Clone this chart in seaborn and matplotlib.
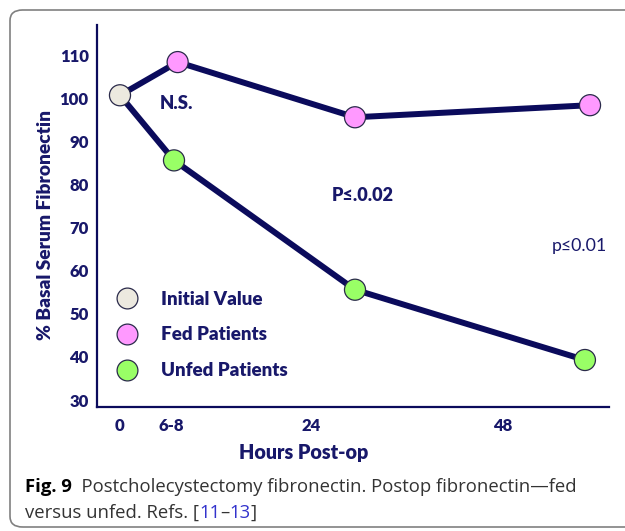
import matplotlib
matplotlib.use("Agg")
import matplotlib.pyplot as plt
import seaborn as sns
import pandas as pd
from matplotlib.lines import Line2D
from matplotlib.patches import FancyBboxPatch

# ---- data ----
fed_x = [0, 7.9, 32.2, 64.4]
fed_y = [100.7, 108.4, 95.6, 98.4]
unfed_x = [0, 7.4, 32.2, 63.7]
unfed_y = [100.7, 85.6, 55.6, 39.3]
init_x = [0]
init_y = [100.7]
xtick_pos = [0, 7.0, 26.2, 52.5]
xtick_labels = ["0", "6-8", "24", "48"]
ytick_vals = [30, 40, 50, 60, 70, 80, 90, 100, 110]

NAVY = "#0b0b5c"
TXT = "#18186a"
C_INIT = "#ece9df"
C_FED = "#ff99ff"
C_UNFED = "#99ff66"
EDGE = "#2a2a4a"
BW = "heavy"

sns.set_style("white")
plt.rcParams["font.family"] = ["Lato", "DejaVu Sans"]

lines_df = pd.DataFrame({
    "x": fed_x + unfed_x,
    "y": fed_y + unfed_y,
    "series": ["Fed"] * len(fed_x) + ["Unfed"] * len(unfed_x),
})
pts_df = pd.DataFrame({
    "x": init_x + fed_x[1:] + unfed_x[1:],
    "y": init_y + fed_y[1:] + unfed_y[1:],
    "group": ["Initial Value"] * len(init_x) + ["Fed Patients"] * (len(fed_x) - 1)
             + ["Unfed Patients"] * (len(unfed_x) - 1),
})

fig = plt.figure(figsize=(6.25, 5.31), dpi=100)
ax = fig.add_axes([97 / 625, 1 - 407 / 531, (609 - 97) / 625, (407 - 25) / 531])

sns.lineplot(data=lines_df, x="x", y="y", hue="series", units="series", estimator=None,
             sort=False, palette={"Fed": NAVY, "Unfed": NAVY}, linewidth=4.3,
             legend=False, ax=ax, zorder=2)
palette = {"Initial Value": C_INIT, "Fed Patients": C_FED, "Unfed Patients": C_UNFED}
sns.scatterplot(data=pts_df, x="x", y="y", hue="group", palette=palette, s=230,
                edgecolor=EDGE, linewidth=0.9, legend=False, ax=ax, zorder=3)

ax.set_xlim(-3.15, 67.0)
ax.set_ylim(28.4, 117.0)
ax.set_xticks(xtick_pos)
ax.set_xticklabels(xtick_labels)
ax.set_yticks(ytick_vals)
ax.tick_params(axis="both", length=0, colors=TXT, labelsize=12)
ax.tick_params(axis="x", pad=8)
ax.tick_params(axis="y", pad=6)
for lab in ax.get_xticklabels() + ax.get_yticklabels():
    lab.set_fontweight(BW)

for s in ["top", "right"]:
    ax.spines[s].set_visible(False)
for s in ["left", "bottom"]:
    ax.spines[s].set_color(NAVY)
    ax.spines[s].set_linewidth(1.6)

ax.set_xlabel("Hours Post-op", fontsize=14.2, fontweight=BW, color=TXT, va="center")
ax.xaxis.set_label_coords((304 - 97) / 512, (407 - 452) / 382)
ax.set_ylabel("% Basal Serum Fibronectin", fontsize=13.8, fontweight=BW, color=TXT, va="center")
ax.yaxis.set_label_coords((46 - 97) / 512, (407 - 225) / 382)

ax.text(7.7, 98.7, "N.S.", fontsize=13.3, fontweight=BW, color=TXT, ha="center", va="center")
ax.text(33.3, 77.5, "P≤.0.02", fontsize=13, fontweight=BW, color=TXT, ha="center", va="center")
ax.text(63.0, 65.7, "p≤0.01", fontsize=12.8, color=TXT, ha="center", va="center")

handles = [Line2D([], [], marker="o", linestyle="none", markersize=15,
                  markerfacecolor=palette[k], markeredgecolor=EDGE, markeredgewidth=0.9)
           for k in ["Initial Value", "Fed Patients", "Unfed Patients"]]
leg = fig.legend(handles, ["Initial Value", "Fed Patients", "Unfed Patients"],
                 loc="center left", bbox_to_anchor=(118 / 625, 1 - 335 / 531),
                 frameon=False, fontsize=13.5, handlelength=1.0, handletextpad=1.3,
                 labelspacing=1.0, borderpad=0, borderaxespad=0)
for t in leg.get_texts():
    t.set_fontweight(BW)
    t.set_color(TXT)

# border box
box = FancyBboxPatch((10 / 625, 4 / 531), 640 / 625, 517 / 531,
                     boxstyle="round,pad=0,rounding_size=0.02",
                     transform=fig.transFigure, facecolor="none",
                     edgecolor="#808080", linewidth=1.2, clip_on=False)
fig.patches.append(box)

# caption
cap_font = ["Open Sans", "DejaVu Sans"]
fig.canvas.draw()
renderer = fig.canvas.get_renderer()


def put_pieces(pieces, x0, y0):
    x = x0
    for txt, kw in pieces:
        t = fig.text(x / 625, 1 - y0 / 531, txt, fontsize=13.3, family=cap_font,
                     va="baseline", ha="left", **kw)
        bb = t.get_window_extent(renderer=renderer)
        x = x + bb.width


put_pieces([("Fig. 9", dict(fontweight="bold", color="black")),
            ("  Postcholecystectomy fibronectin. Postop fibronectin—fed", dict(color="#333333"))],
           25, 492)
put_pieces([("versus unfed. Refs. [", dict(color="#333333")),
            ("11", dict(color="#3333cc")),
            ("–", dict(color="#333333")),
            ("13", dict(color="#3333cc")),
            ("]", dict(color="#333333"))],
           25, 518)

fig.savefig("out.png", dpi=100)
